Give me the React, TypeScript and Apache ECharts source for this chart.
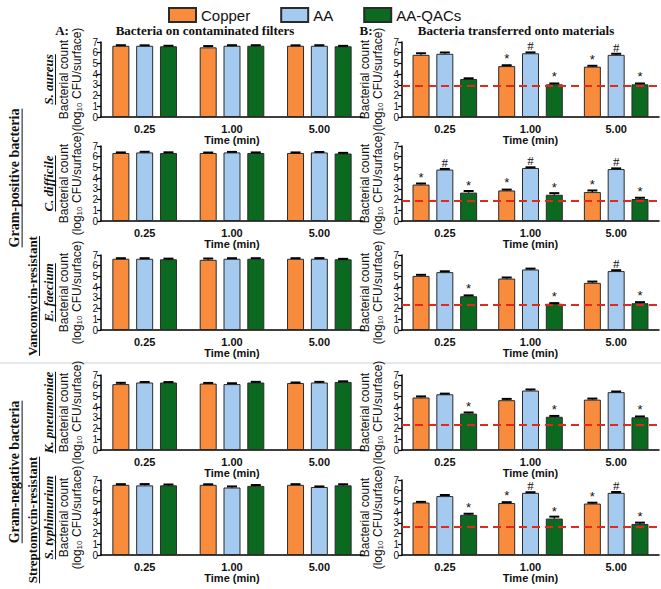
import React, { useEffect, useRef } from "react";
import * as echarts from "echarts";

// ---------- data ----------
const times = ["0.25", "1.00", "5.00"];
const seriesNames = ["Copper", "AA", "AA-QACs"];
const barColors = ["#F98C3C", "#A4CAF0", "#0B6A20"];
const yTicks = [0, 1, 2, 3, 4, 5, 6, 7];

// S. aureus
const saFilterCu = [6.65, 6.5, 6.65];
const saFilterAA = [6.65, 6.65, 6.65];
const saFilterQ = [6.6, 6.65, 6.6];
const saFilterErrCu = [0.05, 0.12, 0.04];
const saFilterErrAA = [0.04, 0.05, 0.05];
const saFilterErrQ = [0.05, 0.05, 0.04];
const saTransCu = [5.8, 4.75, 4.7];
const saTransAA = [5.9, 5.95, 5.8];
const saTransQ = [3.55, 3.05, 3.05];
const saTransErrCu = [0.15, 0.08, 0.08];
const saTransErrAA = [0.12, 0.08, 0.1];
const saTransErrQ = [0.06, 0.08, 0.08];
const saMarksCu = ["", "*", "*"];
const saMarksAA = ["", "#", "#"];
const saMarksQ = ["", "*", "*"];
const saLimit = 2.9;

// C. difficile
const cdFilterCu = [6.35, 6.35, 6.35];
const cdFilterAA = [6.4, 6.4, 6.4];
const cdFilterQ = [6.35, 6.35, 6.3];
const cdFilterErrCu = [0.05, 0.04, 0.05];
const cdFilterErrAA = [0.06, 0.05, 0.04];
const cdFilterErrQ = [0.06, 0.05, 0.06];
const cdTransCu = [3.4, 2.85, 2.7];
const cdTransAA = [4.8, 4.95, 4.85];
const cdTransQ = [2.65, 2.45, 2.05];
const cdTransErrCu = [0.1, 0.08, 0.15];
const cdTransErrAA = [0.06, 0.06, 0.06];
const cdTransErrQ = [0.15, 0.15, 0.12];
const cdMarksCu = ["*", "*", "*"];
const cdMarksAA = ["#", "#", "#"];
const cdMarksQ = ["*", "*", "*"];
const cdLimit = 1.9;

// E. faecium
const efFilterCu = [6.65, 6.55, 6.65];
const efFilterAA = [6.65, 6.65, 6.65];
const efFilterQ = [6.6, 6.65, 6.6];
const efFilterErrCu = [0.05, 0.12, 0.05];
const efFilterErrAA = [0.05, 0.05, 0.06];
const efFilterErrQ = [0.06, 0.05, 0.04];
const efTransCu = [5.05, 4.8, 4.4];
const efTransAA = [5.4, 5.65, 5.5];
const efTransQ = [3.15, 2.45, 2.5];
const efTransErrCu = [0.1, 0.1, 0.12];
const efTransErrAA = [0.08, 0.08, 0.08];
const efTransErrQ = [0.08, 0.06, 0.1];
const efMarksCu = ["", "", ""];
const efMarksAA = ["", "", "#"];
const efMarksQ = ["*", "*", "*"];
const efLimit = 2.4;

// K. pneumoniae
const kpFilterCu = [6.15, 6.2, 6.25];
const kpFilterAA = [6.3, 6.15, 6.3];
const kpFilterQ = [6.3, 6.3, 6.35];
const kpFilterErrCu = [0.12, 0.06, 0.05];
const kpFilterErrAA = [0.05, 0.08, 0.06];
const kpFilterErrQ = [0.04, 0.06, 0.06];
const kpTransCu = [4.9, 4.65, 4.7];
const kpTransAA = [5.2, 5.55, 5.4];
const kpTransQ = [3.4, 3.1, 3.05];
const kpTransErrCu = [0.1, 0.12, 0.1];
const kpTransErrAA = [0.06, 0.1, 0.06];
const kpTransErrQ = [0.1, 0.08, 0.08];
const kpMarksCu = ["", "", ""];
const kpMarksAA = ["", "", ""];
const kpMarksQ = ["*", "*", "*"];
const kpLimit = 2.35;

// S. typhimurium
const stFilterCu = [6.55, 6.55, 6.55];
const stFilterAA = [6.5, 6.3, 6.35];
const stFilterQ = [6.5, 6.45, 6.5];
const stFilterErrCu = [0.06, 0.05, 0.06];
const stFilterErrAA = [0.12, 0.1, 0.05];
const stFilterErrQ = [0.08, 0.08, 0.1];
const stTransCu = [4.9, 4.85, 4.8];
const stTransAA = [5.5, 5.8, 5.8];
const stTransQ = [3.75, 3.4, 2.9];
const stTransErrCu = [0.06, 0.08, 0.08];
const stTransErrAA = [0.1, 0.06, 0.08];
const stTransErrQ = [0.1, 0.18, 0.12];
const stMarksCu = ["", "*", "*"];
const stMarksAA = ["", "#", "#"];
const stMarksQ = ["*", "*", "*"];
const stLimit = 2.65;

const rowNames = ["S. aureus", "C. difficile", "E. faecium", "K. pneumoniae", "S. typhimurium"];

const rows = [
  {
    filter: [saFilterCu, saFilterAA, saFilterQ], filterErr: [saFilterErrCu, saFilterErrAA, saFilterErrQ],
    trans: [saTransCu, saTransAA, saTransQ], transErr: [saTransErrCu, saTransErrAA, saTransErrQ],
    marks: [saMarksCu, saMarksAA, saMarksQ], limit: saLimit,
  },
  {
    filter: [cdFilterCu, cdFilterAA, cdFilterQ], filterErr: [cdFilterErrCu, cdFilterErrAA, cdFilterErrQ],
    trans: [cdTransCu, cdTransAA, cdTransQ], transErr: [cdTransErrCu, cdTransErrAA, cdTransErrQ],
    marks: [cdMarksCu, cdMarksAA, cdMarksQ], limit: cdLimit,
  },
  {
    filter: [efFilterCu, efFilterAA, efFilterQ], filterErr: [efFilterErrCu, efFilterErrAA, efFilterErrQ],
    trans: [efTransCu, efTransAA, efTransQ], transErr: [efTransErrCu, efTransErrAA, efTransErrQ],
    marks: [efMarksCu, efMarksAA, efMarksQ], limit: efLimit,
  },
  {
    filter: [kpFilterCu, kpFilterAA, kpFilterQ], filterErr: [kpFilterErrCu, kpFilterErrAA, kpFilterErrQ],
    trans: [kpTransCu, kpTransAA, kpTransQ], transErr: [kpTransErrCu, kpTransErrAA, kpTransErrQ],
    marks: [kpMarksCu, kpMarksAA, kpMarksQ], limit: kpLimit,
  },
  {
    filter: [stFilterCu, stFilterAA, stFilterQ], filterErr: [stFilterErrCu, stFilterErrAA, stFilterErrQ],
    trans: [stTransCu, stTransAA, stTransQ], transErr: [stTransErrCu, stTransErrAA, stTransErrQ],
    marks: [stMarksCu, stMarksAA, stMarksQ], limit: stLimit,
  },
];

// ---------- layout ----------
const W = 661;
const H = 589;
const GRID_TOPS = [42, 146, 255, 375, 480];
const PLOT_H = 75;
const LEFT_X = 101;
const LEFT_W = 262;
const RIGHT_X = 402;
const RIGHT_W = 257;
const BAR_W = 17;
const BAR_GAP = 0.4;
const STEP = BAR_W * (1 + BAR_GAP);
const SANS = "'Liberation Sans', Arial, sans-serif";
const SERIF = "'Liberation Serif', 'Times New Roman', serif";

function measure(text: string, font: string): number {
  const c = document.createElement("canvas").getContext("2d");
  if (!c) return text.length * 7;
  c.font = font;
  return c.measureText(text).width;
}

function rotatedLabel(text: string, cx: number, cy: number, size: number, italic: boolean, family: string) {
  const font = `${italic ? "italic " : ""}bold ${size}px ${family}`;
  const w = measure(text, font);
  const ux = cx + size * 0.58;
  return [
    {
      type: "text",
      x: cx,
      y: cy,
      rotation: Math.PI / 2,
      style: {
        text,
        fontSize: size,
        fontWeight: "bold",
        fontStyle: italic ? "italic" : "normal",
        fontFamily: family,
        fill: "#111",
        align: "center",
        verticalAlign: "middle",
      },
    },
    {
      type: "line",
      shape: { x1: ux, y1: cy - w / 2, x2: ux, y2: cy + w / 2 },
      style: { stroke: "#111", lineWidth: 1 },
    },
  ];
}

function errRender(params: any, api: any) {
  const ci = api.value(0);
  const si = api.value(1);
  const v = api.value(2);
  const e = api.value(3);
  const base = api.coord([ci, v]);
  const top = api.coord([ci, v + e]);
  const x = base[0] + (si - 1) * STEP;
  return {
    type: "group",
    children: [
      { type: "line", shape: { x1: x, y1: base[1], x2: x, y2: top[1] }, style: { stroke: "#000", lineWidth: 1.5 } },
      { type: "line", shape: { x1: x - 5, y1: top[1], x2: x + 5, y2: top[1] }, style: { stroke: "#000", lineWidth: 2 } },
    ],
  };
}

function buildOption() {
  const grid: any[] = [];
  const xAxis: any[] = [];
  const yAxis: any[] = [];
  const series: any[] = [];

  rows.forEach((row, r) => {
    [0, 1].forEach((side) => {
      const gi = r * 2 + side;
      grid.push({
        left: side ? RIGHT_X : LEFT_X,
        width: side ? RIGHT_W : LEFT_W,
        top: GRID_TOPS[r],
        height: PLOT_H,
      });
      xAxis.push({
        type: "category",
        gridIndex: gi,
        data: times,
        axisLine: { lineStyle: { color: "#000", width: 1.5 } },
        axisTick: { alignWithLabel: true, length: 5, lineStyle: { color: "#000", width: 1.5 } },
        axisLabel: { fontSize: 11, fontWeight: "bold", color: "#111", fontFamily: SANS, margin: 6 },
        name: "Time (min)",
        nameLocation: "middle",
        nameGap: 16,
        nameTextStyle: { fontSize: 11, fontWeight: "bold", color: "#111", fontFamily: SANS },
      });
      yAxis.push({
        type: "value",
        gridIndex: gi,
        min: yTicks[0],
        max: yTicks[yTicks.length - 1],
        interval: 1,
        splitLine: { show: false },
        axisLine: { show: true, lineStyle: { color: "#000", width: 1.5 } },
        axisTick: { show: true, length: 4, lineStyle: { color: "#000", width: 1.2 } },
        axisLabel: {
          fontSize: 10,
          lineHeight: 10,
          color: "#111",
          fontFamily: SANS,
          margin: 3,
          showMaxLabel: true,
          showMinLabel: true,
          hideOverlap: false,
        },
        name: "Bacterial count\n(log\u2081\u2080 CFU/surface)",
        nameLocation: "middle",
        nameGap: 18,
        nameMoveOverlap: false,
        nameTextStyle: { fontSize: 12, lineHeight: 13, color: "#111", fontFamily: SANS },
      });
      const vals = side ? row.trans : row.filter;
      const errs = side ? row.transErr : row.filterErr;
      const errData: any[] = [];
      vals.forEach((arr, si) => {
        series.push({
          type: "bar",
          name: seriesNames[si],
          xAxisIndex: gi,
          yAxisIndex: gi,
          barWidth: BAR_W,
          barGap: `${BAR_GAP * 100}%`,
          itemStyle: { color: barColors[si], borderColor: "#2b2b2b", borderWidth: 1 },
          data: arr.map((v, k) => {
            const m = side ? row.marks[si][k] : "";
            return {
              value: v,
              label: m
                ? {
                    show: true,
                    position: "top",
                    distance: m === "#" ? 1 : 1,
                    formatter: m,
                    fontSize: 13,
                    color: "#111",
                    fontFamily: m === "#" ? SERIF : SANS,
                  }
                : { show: false },
            };
          }),
          markLine:
            side && si === 2
              ? {
                  silent: true,
                  symbol: "none",
                  label: { show: false },
                  lineStyle: { color: "#E02A1E", type: [8, 5], width: 2 },
                  data: [{ yAxis: row.limit }],
                }
              : undefined,
          z: 2,
        });
        arr.forEach((v, k) => errData.push([k, si, v, errs[si][k]]));
      });
      series.push({
        type: "custom",
        xAxisIndex: gi,
        yAxisIndex: gi,
        renderItem: errRender,
        encode: { x: 0, y: 2 },
        data: errData,
        silent: true,
        z: 5,
      });
    });
  });

  const centersY = GRID_TOPS.map((t) => t + PLOT_H / 2);
  const titleStyle = { fontSize: 13, fontWeight: "bold", fontFamily: SERIF, fill: "#111", align: "center", verticalAlign: "middle" };
  const graphic: any[] = [
    { type: "line", shape: { x1: 0, y1: 363, x2: W, y2: 363 }, style: { stroke: "#C9D2DA", lineWidth: 1 } },
    { type: "text", x: 62, y: 30, style: { ...titleStyle, text: "A:" } },
    { type: "text", x: 205, y: 30, style: { ...titleStyle, text: "Bacteria on contaminated filters" } },
    { type: "text", x: 366, y: 30, style: { ...titleStyle, text: "B:" } },
    { type: "text", x: 516, y: 30, style: { ...titleStyle, text: "Bacteria transferred onto materials" } },
    ...rotatedLabel("Gram-positive bacteria", 14, 178, 14, false, SERIF),
    ...rotatedLabel("Vancomycin-resistant", 32, 296, 13, false, SERIF),
    ...rotatedLabel("Gram-negative bacteria", 14, 472, 14, false, SERIF),
    ...rotatedLabel("Streptomycin-resistant", 32, 520, 13, false, SERIF),
  ];
  rowNames.forEach((n, i) => {
    graphic.push(...rotatedLabel(n, 48, centersY[i], 13, true, SERIF));
  });

  return {
    animation: false,
    backgroundColor: "#fff",
    legend: {
      data: seriesNames,
      top: 2,
      left: 163,
      icon: "rect",
      itemWidth: 27,
      itemHeight: 14,
      itemGap: 30,
      textStyle: { fontSize: 15, lineHeight: 15, color: "#111", fontFamily: SANS },
    },
    grid,
    xAxis,
    yAxis,
    series,
    graphic,
  };
}

export default function App() {
  const ref = useRef<HTMLDivElement>(null);
  useEffect(() => {
    document.body.style.margin = "0";
    if (!ref.current) return;
    const chart = echarts.init(ref.current, undefined, { renderer: "svg" });
    chart.setOption(buildOption() as any);
    return () => chart.dispose();
  }, []);
  return <div ref={ref} style={{ width: W, height: H, position: "absolute", left: 0, top: 0 }} />;
}
